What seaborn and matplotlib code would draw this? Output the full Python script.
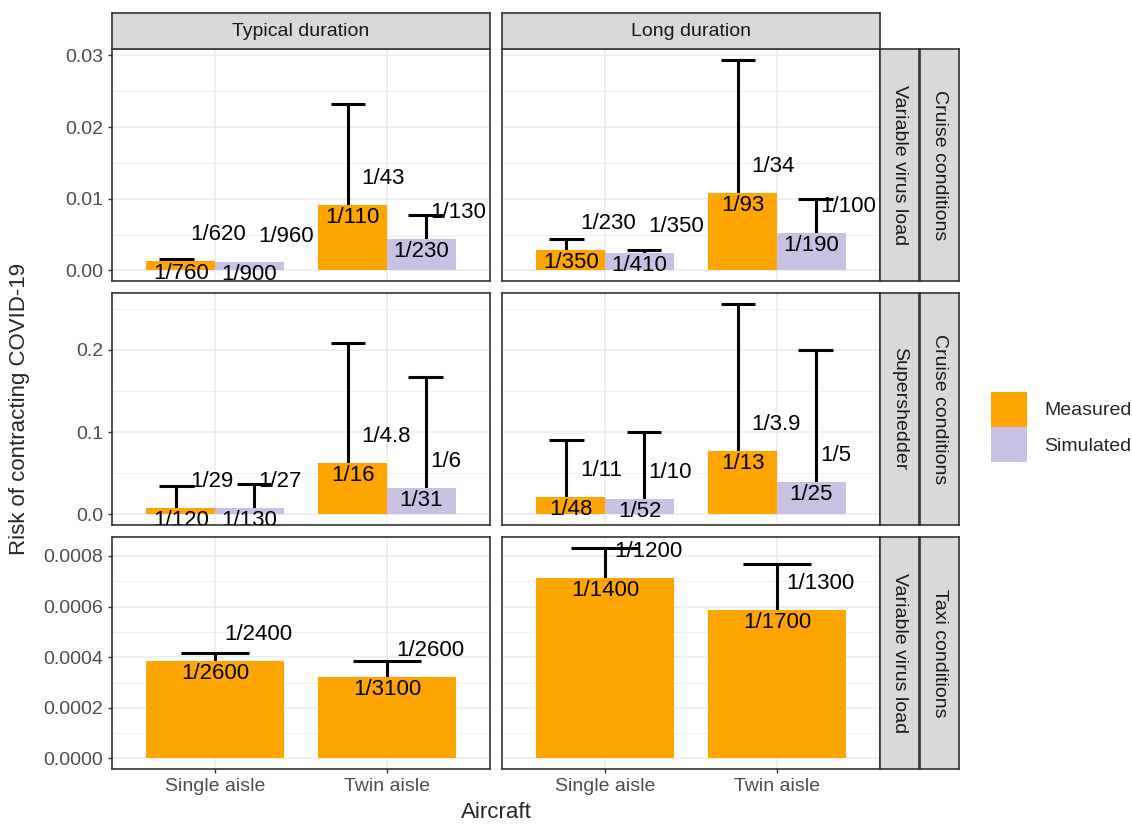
import matplotlib
matplotlib.use("Agg")
import matplotlib.pyplot as plt
from matplotlib.patches import Patch
from matplotlib.transforms import offset_copy
from matplotlib.ticker import MultipleLocator, FormatStrFormatter
import pandas as pd
import seaborn as sns

# -------------------------
# 1 Data (risk is printed as 1/N on the chart, N kept as text)
# -------------------------
aircraft = ["Single aisle", "Twin aisle"]
durations = ["Typical duration", "Long duration"]
sources = ["Measured", "Simulated"]
row_inner = ["Variable virus load", "Supershedder", "Variable virus load"]
row_outer = ["Cruise conditions", "Cruise conditions", "Taxi conditions"]

# order: Single/Measured, Single/Simulated, Twin/Measured, Twin/Simulated
cruise_vvl_typical = ["760", "900", "110", "230"]
cruise_vvl_typical_upper = ["620", "960", "43", "130"]
cruise_vvl_long = ["350", "410", "93", "190"]
cruise_vvl_long_upper = ["230", "350", "34", "100"]

cruise_ss_typical = ["120", "130", "16", "31"]
cruise_ss_typical_upper = ["29", "27", "4.8", "6"]
cruise_ss_long = ["48", "52", "13", "25"]
cruise_ss_long_upper = ["11", "10", "3.9", "5"]

# taxi: measured only, order Single, Twin
taxi_vvl_typical = ["2600", "3100"]
taxi_vvl_typical_upper = ["2400", "2600"]
taxi_vvl_long = ["1400", "1700"]
taxi_vvl_long_upper = ["1200", "1300"]

palette = {"Measured": "#FFA500", "Simulated": "#C9C1E3"}


def make_frame(means, uppers, srcs):
    combos = [(a, s) for a in aircraft for s in srcs]
    rows = []
    for (a, s), m, u in zip(combos, means, uppers):
        rows.append({"Aircraft": a, "Source": s,
                     "risk": 1 / float(m), "upper": 1 / float(u),
                     "lab": f"1/{m}", "ulab": f"1/{u}"})
    return pd.DataFrame(rows)


frames = {
    (0, 0): make_frame(cruise_vvl_typical, cruise_vvl_typical_upper, sources),
    (0, 1): make_frame(cruise_vvl_long, cruise_vvl_long_upper, sources),
    (1, 0): make_frame(cruise_ss_typical, cruise_ss_typical_upper, sources),
    (1, 1): make_frame(cruise_ss_long, cruise_ss_long_upper, sources),
    (2, 0): make_frame(taxi_vvl_typical, taxi_vvl_typical_upper, ["Measured"]),
    (2, 1): make_frame(taxi_vvl_long, taxi_vvl_long_upper, ["Measured"]),
}

# -------------------------
# 2 Figure layout (pixels)
# -------------------------
sns.set_style("white")
plt.rcParams["font.family"] = ["Liberation Sans", "DejaVu Sans"]

W, H = 1132, 827
fig = plt.figure(figsize=(W / 100, H / 100), dpi=100)


def box(x0, y0, x1, y1):
    return [x0 / W, 1 - y1 / H, (x1 - x0) / W, (y1 - y0) / H]


col_x = [(112, 490), (502, 880)]
row_y = [(49, 281), (293, 525), (537, 769)]
steps = [0.01, 0.1, 0.0002]
fmts = ["%.2f", "%.1f", "%.4f"]
dark = "#333333"

# -------------------------
# 3 Panels
# -------------------------
for r in range(3):
    ymax = max(frames[(r, 0)]["upper"].max(), frames[(r, 1)]["upper"].max())
    for c in range(2):
        df = frames[(r, c)]
        hue_order = sources if r < 2 else ["Measured"]
        ax = fig.add_axes(box(col_x[c][0], row_y[r][0], col_x[c][1], row_y[r][1]))
        sns.barplot(data=df, x="Aircraft", y="risk", hue="Source", order=aircraft,
                    hue_order=hue_order, palette=palette, saturation=1, width=0.8,
                    errorbar=None, legend=False, linewidth=0, zorder=3, ax=ax)
        n = len(hue_order)
        for cont, src in zip(ax.containers, hue_order):
            for bar, a in zip(cont, aircraft):
                row = df[(df["Aircraft"] == a) & (df["Source"] == src)].iloc[0]
                xc = bar.get_x() + bar.get_width() / 2
                tick = aircraft.index(a)
                xe = tick + (xc - tick) * 0.9 / 0.8
                half = 0.2 / n
                # upper limit below the bar top stays hidden behind the bar
                if row["upper"] > row["risk"]:
                    ax.plot([xe, xe], [row["risk"], row["upper"]], color="black",
                            lw=2.2, zorder=2, solid_capstyle="butt")
                    ax.plot([xe - half, xe + half], [row["upper"], row["upper"]],
                            color="black", lw=2.2, zorder=2, solid_capstyle="butt")
                ax.text(xc, row["risk"], row["lab"], ha="center", va="center",
                        fontsize=16, color="black", clip_on=True, zorder=5,
                        transform=offset_copy(ax.transData, fig=fig, y=-9, units="points"))
                ax.text(xc, row["risk"], row["ulab"], ha="left", va="center",
                        fontsize=16, color="black", clip_on=True, zorder=5,
                        transform=offset_copy(ax.transData, fig=fig, x=6.5, y=19, units="points"))

        ax.set_xlim(-0.6, 1.6)
        ax.set_ylim(-0.05 * ymax, 1.05 * ymax)
        ax.yaxis.set_major_locator(MultipleLocator(steps[r]))
        ax.yaxis.set_minor_locator(MultipleLocator(steps[r] / 2))
        ax.yaxis.set_major_formatter(FormatStrFormatter(fmts[r]))
        ax.set_axisbelow(True)
        ax.grid(which="major", color="#EBEBEB", lw=1.1, zorder=0)
        ax.grid(which="minor", axis="y", color="#EBEBEB", lw=0.6, zorder=0)
        ax.set_xlabel("")
        ax.set_ylabel("")
        ax.tick_params(axis="both", which="major", length=3, width=1, color=dark,
                       labelsize=14, labelcolor="#4D4D4D", left=True, bottom=True)
        ax.tick_params(which="minor", length=0)
        if c == 1:
            ax.tick_params(left=False, labelleft=False)
        if r < 2:
            ax.tick_params(bottom=False, labelbottom=False)
        for sp in ax.spines.values():
            sp.set_color(dark)
            sp.set_linewidth(1.2)

# -------------------------
# 4 Strips
# -------------------------
def strip(b, label, rot):
    sax = fig.add_axes(b)
    sax.set_facecolor("#D9D9D9")
    sax.set_xticks([])
    sax.set_yticks([])
    for sp in sax.spines.values():
        sp.set_color(dark)
        sp.set_linewidth(1.2)
    sax.text(0.5, 0.5, label, ha="center", va="center", rotation=rot,
             fontsize=14, color="#1A1A1A", transform=sax.transAxes)


for c, d in enumerate(durations):
    strip(box(col_x[c][0], 13, col_x[c][1], 49), d, 0)
for r in range(3):
    strip(box(880, row_y[r][0], 919, row_y[r][1]), row_inner[r], -90)
    strip(box(920, row_y[r][0], 959, row_y[r][1]), row_outer[r], -90)

# -------------------------
# 5 Legend and axis titles
# -------------------------
handles = [Patch(facecolor=palette[s], edgecolor="none", label=s) for s in sources]
fig.legend(handles=handles, loc="center left", bbox_to_anchor=(991 / W, 1 - 427 / H),
           frameon=False, fontsize=14, handlelength=1.85, handleheight=2.4,
           labelspacing=0.0, handletextpad=0.9, borderpad=0, borderaxespad=0)

fig.text(20 / W, 1 - 409 / H, "Risk of contracting COVID-19", rotation=90,
         ha="center", va="center", fontsize=16)
fig.text(496 / W, 1 - 813 / H, "Aircraft", ha="center", va="center", fontsize=16)

fig.savefig("out.png", dpi=100)
